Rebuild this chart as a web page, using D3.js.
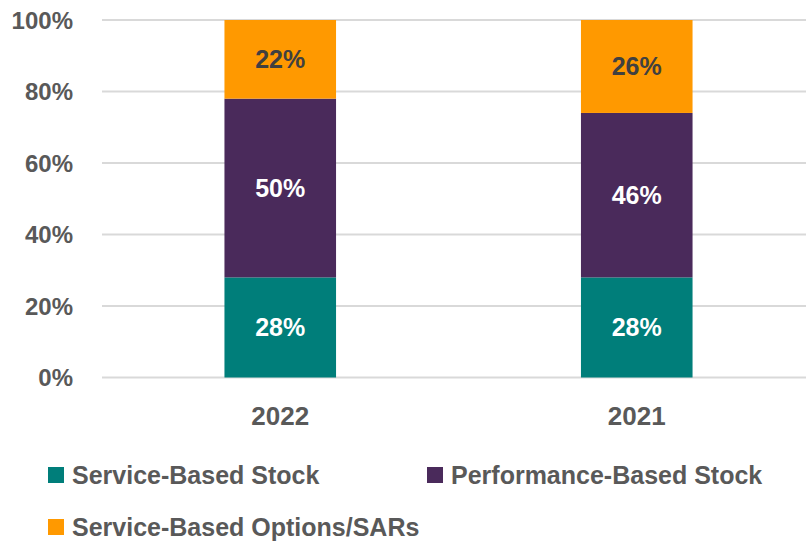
<!DOCTYPE html>
<html><head><meta charset="utf-8">
<script src="https://cdn.jsdelivr.net/npm/d3@7"></script>
<style>body{margin:0;background:#fff}svg{display:block}</style>
</head><body>
<script>
const categories = ["2022", "2021"];
const seriesNames = ["Service-Based Stock", "Performance-Based Stock", "Service-Based Options/SARs"];
const serviceStock = [28, 28];
const performanceStock = [50, 46];
const serviceOptions = [22, 26];
const yTicks = [0, 20, 40, 60, 80, 100];
const colors = ["#007E7A", "#4A2A5B", "#FF9900"];
const labelColors = ["#FFFFFF", "#FFFFFF", "#404040"];

const W = 806, H = 541;
const svg = d3.select("body").append("svg").attr("width", W).attr("height", H);
const font = "'Liberation Sans', Arial, sans-serif";

const x = d3.scaleBand().domain(categories).range([102, 815]).padding(0);
const y = d3.scaleLinear().domain([0, 100]).range([377.5, 20]);
const barW = x.bandwidth() * 0.313;

// gridlines
svg.append("g").selectAll("line").data(yTicks).join("line")
  .attr("x1", 102).attr("x2", W)
  .attr("y1", d => y(d)).attr("y2", d => y(d))
  .attr("stroke", "#D9D9D9").attr("stroke-width", 2);

// y axis
const yAxis = d3.axisLeft(y).tickValues(yTicks).tickFormat(d => d + "%").tickSize(0).tickPadding(0);
const gy = svg.append("g").attr("transform", "translate(73,0)").call(yAxis);
gy.select(".domain").remove();
gy.selectAll("text").attr("font-family", font).attr("font-weight", "bold")
  .attr("font-size", 24).attr("fill", "#595959").attr("dy", "0.35em");

// x axis
const xAxis = d3.axisBottom(x).tickSize(0).tickPadding(0);
const gx = svg.append("g").attr("transform", "translate(0,378)").call(xAxis);
gx.select(".domain").remove();
gx.selectAll("text").attr("font-family", font).attr("font-weight", "bold")
  .attr("font-size", 26).attr("fill", "#595959").attr("dy", null).attr("y", 47);

// stacked data
const rows = categories.map((c, i) => ({cat: c, s0: serviceStock[i], s1: performanceStock[i], s2: serviceOptions[i]}));
const stack = d3.stack().keys(["s0", "s1", "s2"])(rows);

stack.forEach((layer, k) => {
  const g = svg.append("g");
  g.selectAll("rect").data(layer).join("rect")
    .attr("x", d => x(d.data.cat) + x.bandwidth() / 2 - barW / 2)
    .attr("width", barW)
    .attr("y", d => y(d[1]))
    .attr("height", d => y(d[0]) - y(d[1]))
    .attr("fill", colors[k]);
  g.selectAll("text").data(layer).join("text")
    .attr("x", d => x(d.data.cat) + x.bandwidth() / 2)
    .attr("y", d => (y(d[0]) + y(d[1])) / 2)
    .attr("dy", "0.35em")
    .attr("text-anchor", "middle")
    .attr("font-family", font).attr("font-weight", "bold").attr("font-size", 25)
    .attr("fill", labelColors[k])
    .text(d => (d[1] - d[0]) + "%");
});

// legend
const legendPos = [[48, 467], [427, 467], [48, 519]];
const lg = svg.append("g").selectAll("g").data(seriesNames).join("g")
  .attr("transform", (d, i) => `translate(${legendPos[i][0]},${legendPos[i][1]})`);
lg.append("rect").attr("width", 16).attr("height", 16).attr("fill", (d, i) => colors[i]);
lg.append("text").attr("x", 24).attr("y", 16.5)
  .attr("font-family", font).attr("font-weight", "bold").attr("font-size", 25)
  .attr("fill", "#595959").text(d => d);
</script>
</body></html>
